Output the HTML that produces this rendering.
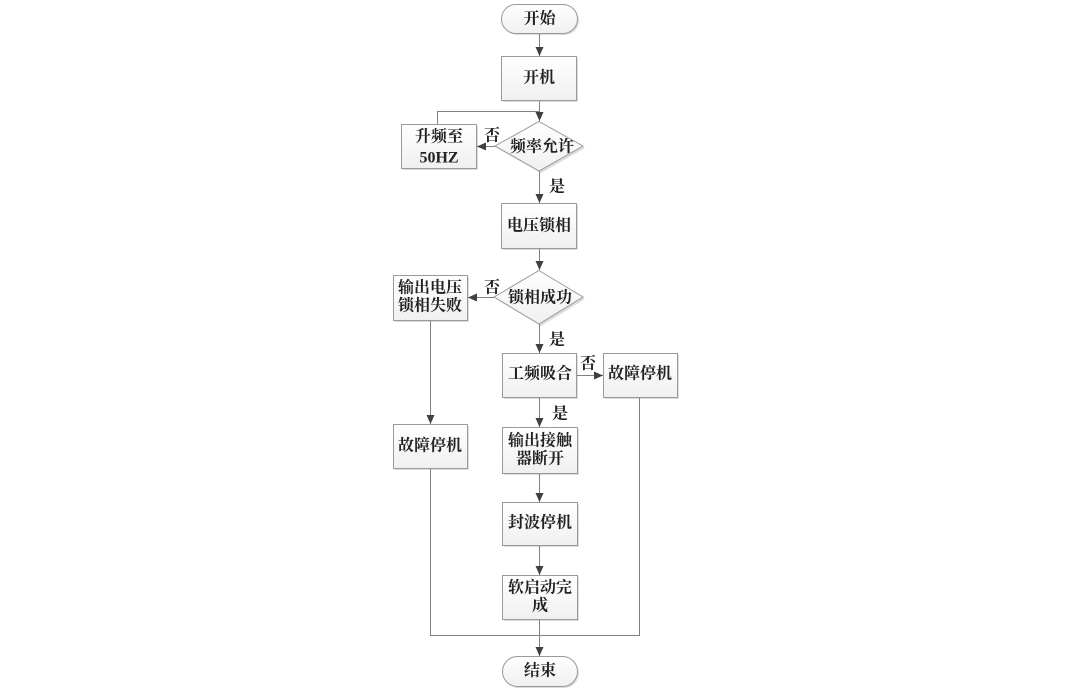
<!DOCTYPE html>
<html><head><meta charset="utf-8"><style>
html,body{margin:0;padding:0;background:#fff;}
svg{display:block;}
text{font-family:"Liberation Serif","Noto Serif CJK SC",serif;font-weight:bold;font-size:16px;fill:#222;text-anchor:middle;dominant-baseline:central;}
.lbl{font-size:16px;}
</style></head><body>
<svg width="1080" height="696" viewBox="0 0 1080 696" xmlns="http://www.w3.org/2000/svg">
<defs>
<linearGradient id="g" x1="0" y1="0" x2="0" y2="1">
<stop offset="0" stop-color="#ffffff"/><stop offset="1" stop-color="#f0f0f0"/>
</linearGradient>
<marker id="a" markerWidth="9" markerHeight="8" refX="9" refY="4" orient="auto" markerUnits="userSpaceOnUse">
<path d="M0,0 L9,4 L0,8 Z" fill="#404040"/>
</marker>
</defs>
<g fill="#dcdcdc">
<rect x="503" y="6" width="76" height="29" rx="14.5"/>
<rect x="503" y="58" width="75" height="44"/>
<rect x="403" y="126" width="75" height="44"/>
<polygon points="541,123 585,148 541,173 497,148"/>
<rect x="503" y="205" width="75" height="45"/>
<polygon points="541,272 585,299 541,326 496,299"/>
<rect x="395" y="277" width="74" height="45"/>
<rect x="504" y="355" width="74" height="44"/>
<rect x="605" y="355" width="74" height="44"/>
<rect x="504" y="429" width="75" height="46"/>
<rect x="395" y="426" width="74" height="44"/>
<rect x="504" y="504" width="75" height="43"/>
<rect x="504" y="577" width="75" height="44"/>
<rect x="504" y="658" width="75" height="30" rx="15"/>
</g>
<g fill="url(#g)" stroke="#9a9a9a" stroke-width="1">
<rect x="501.5" y="4.5" width="76" height="29" rx="14.5"/>
<rect x="501.5" y="56.5" width="75" height="44"/>
<rect x="401.5" y="124.5" width="75" height="44"/>
<polygon points="539,121.5 583,146 539,171 495,146"/>
<rect x="501.5" y="203.5" width="75" height="45"/>
<polygon points="539,270.5 583,297 539,324 494,297"/>
<rect x="393.5" y="275.5" width="74" height="45"/>
<rect x="502.5" y="353.5" width="74" height="44"/>
<rect x="603.5" y="353.5" width="74" height="44"/>
<rect x="502.5" y="427.5" width="75" height="46"/>
<rect x="393.5" y="424.5" width="74" height="44"/>
<rect x="502.5" y="502.5" width="75" height="43"/>
<rect x="502.5" y="575.5" width="75" height="44"/>
<rect x="502.5" y="656.5" width="75" height="30" rx="15"/>
</g>
<g stroke="#808080" stroke-width="1" fill="none">
<line x1="539.5" y1="34" x2="539.5" y2="56" marker-end="url(#a)"/>
<line x1="539.5" y1="101" x2="539.5" y2="121" marker-end="url(#a)"/>
<polyline points="539.5,111.5 437.5,111.5 437.5,124"/>
<line x1="495" y1="146.5" x2="477" y2="146.5" marker-end="url(#a)"/>
<line x1="539.5" y1="171" x2="539.5" y2="203" marker-end="url(#a)"/>
<line x1="539.5" y1="249" x2="539.5" y2="270" marker-end="url(#a)"/>
<line x1="494" y1="297.5" x2="468" y2="297.5" marker-end="url(#a)"/>
<line x1="539.5" y1="324" x2="539.5" y2="353" marker-end="url(#a)"/>
<line x1="577" y1="375.5" x2="603" y2="375.5" marker-end="url(#a)"/>
<line x1="539.5" y1="398" x2="539.5" y2="427" marker-end="url(#a)"/>
<line x1="430.5" y1="321" x2="430.5" y2="424" marker-end="url(#a)"/>
<polyline points="430.5,469 430.5,635.5 639.5,635.5 639.5,398"/>
<line x1="539.5" y1="474" x2="539.5" y2="502" marker-end="url(#a)"/>
<line x1="539.5" y1="546" x2="539.5" y2="575" marker-end="url(#a)"/>
<line x1="539.5" y1="620" x2="539.5" y2="656" marker-end="url(#a)"/>
</g>
<text x="539.5" y="19">开始</text>
<text x="539" y="78">开机</text>
<text x="439" y="137">升频至</text>
<text x="439" y="158">50HZ</text>
<text x="542" y="147">频率允许</text>
<text class="lbl" x="492" y="136">否</text>
<text class="lbl" x="557" y="187">是</text>
<text x="539" y="226">电压锁相</text>
<text x="540" y="298">锁相成功</text>
<text class="lbl" x="492" y="288">否</text>
<text x="430" y="288">输出电压</text>
<text x="430" y="306">锁相失败</text>
<text class="lbl" x="557" y="340">是</text>
<text x="540" y="374">工频吸合</text>
<text class="lbl" x="588" y="364">否</text>
<text x="640" y="374">故障停机</text>
<text class="lbl" x="560" y="414">是</text>
<text x="540" y="441">输出接触</text>
<text x="540" y="459">器断开</text>
<text x="430" y="446">故障停机</text>
<text x="540" y="523">封波停机</text>
<text x="540" y="588">软启动完</text>
<text x="540" y="606">成</text>
<text x="540" y="671">结束</text>
</svg>
</body></html>
